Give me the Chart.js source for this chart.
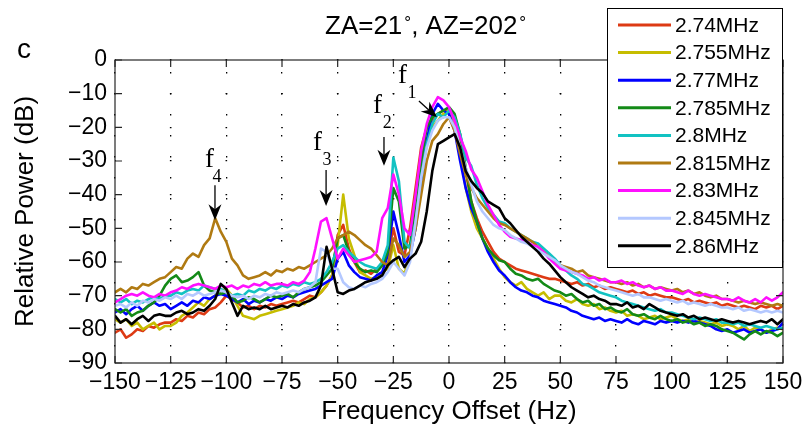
<!DOCTYPE html>
<html>
<head>
<meta charset="utf-8">
<script src="https://cdn.jsdelivr.net/npm/chart.js@4.4.1/dist/chart.umd.min.js"></script>
<style>
html,body{margin:0;padding:0;background:#fff;}
canvas{display:block;}
</style>
</head>
<body>
<canvas id="c" width="810" height="435"></canvas>
<script>
// ---------------- DATA ----------------
const freqOffsetHz = [
-150,-147.5,-145,-142.5,-140,-137.5,-135,-132.5,-130,-127.5,
-125,-122.5,-120,-117.5,-115,-112.5,-110,-107.5,-105,-102.5,
-100,-97.5,-95,-92.5,-90,-87.5,-85,-82.5,-80,-77.5,
-75,-72.5,-70,-67.5,-65,-62.5,-60,-57.5,-55,-52.5,
-50,-47.5,-45,-42.5,-40,-37.5,-35,-32.5,-30,-27.5,
-25,-22.5,-20,-17.5,-15,-12.5,-10,-7.5,-5,-2.5,
0,2.5,5,7.5,10,12.5,15,17.5,20,22.5,
25,27.5,30,32.5,35,37.5,40,42.5,45,47.5,
50,52.5,55,57.5,60,62.5,65,67.5,70,72.5,
75,77.5,80,82.5,85,87.5,90,92.5,95,97.5,
100,102.5,105,107.5,110,112.5,115,117.5,120,122.5,
125,127.5,130,132.5,135,137.5,140,142.5,145,147.5,
150];

const seriesLabels = ['2.74MHz','2.755MHz','2.77MHz','2.785MHz','2.8MHz','2.815MHz','2.83MHz','2.845MHz','2.86MHz'];
const seriesColors = ['#dd3a14','#c6bd00','#0000ff','#138a17','#12c2c2','#b07a12','#ff10ff','#b4c8ff','#000000'];

const p274 = [
-81,-80,-82.5,-81.5,-80,-80.5,-79,-79.5,-78.5,-78,
-78,-77,-77.5,-76,-76.5,-75,-75.5,-74,-73.5,-72,
-70,-71,-72,-73.5,-73,-74,-73,-73.5,-72.5,-73,
-72.5,-72,-71.5,-72,-71,-70,-70.5,-69,-67,-64,
-52,-49,-56,-60,-63,-62.5,-63.5,-62,-61,-58,
-50,-57,-58,-50,-38,-26,-20,-18,-16,-15,
-15,-18,-24,-33,-42,-47,-51,-54,-57,-59,
-60,-61,-62,-62.5,-63,-63.5,-64,-64.5,-65,-65,
-65.5,-66,-66.5,-66,-67,-66.5,-67.5,-67,-68,-67.5,
-68,-68.5,-69,-68.5,-69.5,-69,-70,-69.5,-70,-70.5,
-70.5,-71,-71.5,-71,-72,-71.5,-72,-72.5,-72,-73,
-72.5,-73,-73.5,-73,-73.5,-74,-73,-73.5,-73,-74,
-73];

const p2755 = [
-77,-78,-77,-79,-78,-80,-79,-78,-80,-79,
-79,-78,-76,-75,-73.5,-72,-73,-71,-70,-68.5,
-68,-70,-73,-76,-76.5,-77,-76,-75.5,-75,-74.5,
-74,-73.5,-73,-72,-72.5,-71,-70.5,-69,-67,-64,
-55,-40,-53,-58,-63,-64,-65,-64.5,-63,-62,
-55,-62,-63.5,-58,-45,-32,-24,-20,-18,-16,
-15,-18,-27,-38,-45,-50,-53,-56,-59,-62,
-64.5,-66,-67,-66,-68,-69,-70,-69,-71,-70,
-70,-71.5,-72,-71,-72.5,-73,-72.5,-74,-73.5,-74.5,
-75,-74.5,-76,-75.5,-76,-77,-76.5,-76,-77,-76.5,
-76,-77,-77.5,-77,-78,-77.5,-78,-78.5,-78,-79,
-78.5,-79,-80,-79,-80.5,-79.5,-80,-81,-80,-79.5,
-80];

const p277 = [
-75,-74,-75.5,-74,-73,-74.5,-73,-72,-73,-72.5,
-74,-73,-72,-73,-71.5,-72,-70.5,-71,-70,-69.5,
-70,-71,-72,-71,-72.5,-71.5,-72,-71,-71.5,-70.5,
-71,-70,-70.5,-69.5,-69,-68.5,-68,-67,-66,-65,
-59,-57,-61,-63,-64.5,-65,-65.5,-64,-63,-58,
-45,-52,-60,-58,-50,-36,-24,-16,-13,-15,
-16,-21,-30,-38,-44,-48,-53,-57,-60,-62.5,
-64,-66,-67.5,-68.5,-69,-70,-70.5,-71.5,-72,-72.5,
-73,-73.5,-74.5,-75,-76,-76.5,-77,-76.5,-77.5,-77,
-77.5,-78,-77,-78,-78.5,-77.5,-78,-78.5,-77.5,-78,
-77.5,-78,-77.5,-78,-77.5,-78,-78.5,-79,-80,-80.5,
-80,-81,-80.5,-80,-81,-80.5,-80,-81,-80.5,-80,
-78];

const p2785 = [
-74,-75,-74,-76,-75,-74.5,-73,-72,-70,-67,
-65,-64,-66,-65.5,-64.5,-63,-67,-68.5,-69,-69.5,
-69,-70,-72,-71.5,-70.5,-71,-72,-71,-70,-70.5,
-70,-69.5,-70.5,-69,-68,-67.5,-67,-66,-64,-62,
-53,-52,-57,-60,-62,-63,-62.5,-63,-61,-57,
-38,-42,-56,-55,-44,-30,-20,-17,-16,-15,
-14,-16,-22,-32,-42,-48,-53,-56,-58,-59.5,
-60,-62,-63.5,-64,-65,-65.5,-65,-66.5,-67.5,-68.5,
-69,-70,-69.5,-71,-72,-71.5,-73,-72.5,-74,-73.5,
-74.5,-75,-74,-75.5,-76,-75.5,-76.5,-77,-76,-77,
-77.5,-77,-78,-77.5,-78.5,-78,-79,-78.5,-79,-80,
-80.5,-81,-82,-83,-81.5,-80.5,-81.5,-80.5,-81,-82,
-81];

const p28 = [
-71,-72,-71,-72.5,-71.5,-72,-71,-70.5,-71,-70,
-70,-69,-69.5,-68.5,-68,-68.5,-67,-67.5,-68,-68,
-69,-70,-69.5,-70,-68.5,-69,-68,-68.5,-67.5,-68,
-67,-67.5,-66.5,-67,-66,-66.5,-66,-65,-63,-60,
-56,-55,-57,-58.5,-60,-61,-61.5,-62,-60,-55,
-29,-36,-54,-56,-48,-35,-25,-19,-16,-17,
-15,-17,-22,-29,-31.5,-37,-41,-44,-46,-48,
-48.5,-50,-51,-52,-53,-54,-54.5,-56,-57.5,-59,
-61,-62.5,-64,-65,-66.5,-67,-68,-69,-69.5,-70,
-70.5,-71.5,-72,-72.5,-73,-73.5,-74,-74.5,-74,-75,
-75,-75.5,-76,-76.5,-77,-76.5,-77,-77.5,-77,-78,
-78,-78.5,-78,-79,-78.5,-79,-79.5,-79,-79.5,-80,
-79.5];

const p2815 = [
-69,-68,-69,-67.5,-68,-66.5,-67,-66,-65,-64.5,
-63,-61.5,-62,-59,-57.5,-58.5,-55,-53,-47,-51,
-54,-59,-61,-64,-65,-64.5,-64,-63,-64,-62.5,
-63,-62,-62.5,-61.5,-62,-61,-60,-59,-58,-56,
-53,-52,-51,-52,-53.5,-55,-56,-58,-60,-61,
-53,-55,-58.5,-57,-50,-40,-30,-24,-22,-19,
-17,-21,-28,-34,-38,-41,-43,-45,-47,-48.5,
-49,-50,-51,-52,-53,-54,-55.5,-57,-58.5,-60,
-61,-61.5,-62,-63,-62.5,-64,-64.5,-65,-65.5,-66,
-66,-66.5,-66,-67,-66.5,-67.5,-67,-68,-67.5,-68,
-68.5,-68,-69,-68.5,-69.5,-69,-70,-70.5,-70,-71,
-71,-71.5,-72,-71.5,-72,-72.5,-72,-72.5,-73,-72.5,
-73];

const p283 = [
-72,-71,-70,-69.5,-70,-69,-70,-70.5,-69.5,-70,
-69,-68.5,-67.5,-68,-67,-66.5,-67,-67.5,-68,-67,
-67.5,-67,-68,-67,-67.5,-66.5,-67,-66,-67,-66.5,
-66.5,-67,-66,-66.5,-65.5,-63,-56,-48,-47,-53,
-59,-56,-58,-60,-59.5,-59,-58.5,-57,-47,-44,
-34,-40,-50,-52,-40,-27,-19,-14,-11,-12,
-14,-18,-23,-27,-32.5,-35,-39,-43,-46,-49,
-51,-52.5,-53,-53.5,-54,-55,-55.5,-57,-59,-60.5,
-62,-62.5,-63,-63.5,-64,-65,-64.5,-65.5,-65,-66,
-66,-65.5,-66.5,-66,-67,-67.5,-67,-68,-67.5,-68.5,
-68.5,-69,-69.5,-68.5,-69.5,-70,-69.5,-70,-70.5,-71,
-71,-71.5,-70.5,-71.5,-72,-71,-72,-70.5,-71.5,-70.5,
-69];

const p2845 = [
-73,-72.5,-73.5,-72,-73,-71.5,-72,-71,-71.5,-70.5,
-71,-70,-71,-69.5,-70,-69,-70,-69.5,-69,-68.5,
-69,-70,-70.5,-70,-71,-70,-70.5,-69.5,-70,-69,
-69.5,-69,-68.5,-69,-68,-67.5,-66,-56,-57,-62,
-62,-66,-67.5,-68,-67,-67.5,-66.5,-66,-65,-63,
-60,-62,-64,-60,-48,-35,-26,-21,-18,-17,
-17,-20,-26,-32,-37,-42,-45,-47,-49,-50,
-50.5,-52,-53,-54,-54.5,-55.5,-56.5,-57.5,-58.5,-59.5,
-61,-62,-63,-63.5,-64.5,-65.5,-66,-67,-67.5,-68,
-68.5,-69,-69.5,-70,-69.5,-70.5,-70.5,-71,-71.5,-71,
-71.5,-72,-71.5,-72.5,-72,-72.5,-73,-72.5,-73,-73.5,
-73.5,-74,-73.5,-74.5,-74,-74.5,-75,-74.5,-75,-74.5,
-75];

const p286 = [
-76,-78,-77,-78.5,-77,-76,-77.5,-76,-75.5,-76,
-76,-75,-74.5,-75.5,-75,-74,-74.5,-73,-71,-66.5,
-68,-72,-76,-73,-74,-73.5,-74,-73,-74,-73.5,
-73,-73.5,-72.5,-73,-72,-71.5,-70.5,-67,-55.5,-62,
-69,-69.5,-68.5,-68,-67,-66,-65.5,-65,-64,-61,
-59.5,-58.5,-61.5,-59,-57.5,-54,-45,-33,-25,-24,
-23,-22,-26,-33,-36,-38,-39.5,-42,-43,-44,
-47,-48.5,-50.5,-52.5,-54,-55.5,-57,-59,-60.5,-62.5,
-64.5,-66,-67.5,-68.5,-69.5,-70.5,-70,-71,-71.5,-72.5,
-72.5,-73,-72,-73.5,-73,-74,-72.5,-73.5,-74.5,-75,
-75.5,-76,-75.5,-76.5,-76,-77,-76.5,-77,-77.5,-77,
-77.5,-78,-77.5,-78,-78.5,-78,-77.5,-78,-77,-78.5,
-77];

const seriesValues = [p274, p2755, p277, p2785, p28, p2815, p283, p2845, p286];

const xTickStep = 25, yTickStep = 10;

// annotation anchors (data coordinates)
const annotations = [
  {sub:'4', text:[-109.6,-31.8], subPos:[-106.2,-36.2], from:[-105.1,-37.2], to:[-105.1,-47.6]},
  {sub:'3', text:[-61.1,-26.7],  subPos:[-56.8,-31.2],  from:[-55.2,-32.7],  to:[-55.2,-43.4]},
  {sub:'2', text:[-34.1,-15.7],  subPos:[-29.8,-20.2],  from:[-29.2,-22.9],  to:[-29.2,-31.4]},
  {sub:'1', text:[-22.9,-6.8],   subPos:[-18.6,-11.3],  from:[-13.5,-12.2],  to:[-5.4,-17.0]}
];

// ---------------- CHART ----------------
Chart.defaults.font.family = '"Liberation Sans", Arial, Helvetica, sans-serif';
Chart.defaults.color = '#000';

const minus = v => (v < 0 ? '\u2212' + Math.abs(v) : String(v));

const datasets = seriesValues.map((vals, i) => ({
  label: seriesLabels[i],
  data: freqOffsetHz.map((f, k) => ({x: f, y: vals[k]})),
  borderColor: seriesColors[i],
  backgroundColor: seriesColors[i],
  borderWidth: 2.6,
  pointRadius: 0,
  tension: 0,
  fill: false,
  borderJoinStyle: 'round',
  borderCapStyle: 'round',
  order: seriesValues.length - 1 - i
}));

function drawArrow(ctx, x1, y1, x2, y2) {
  const ang = Math.atan2(y2 - y1, x2 - x1);
  const L = 16, W = 6.5, back = 5;
  ctx.beginPath();
  ctx.moveTo(x1, y1);
  ctx.lineTo(x2 - Math.cos(ang) * (L - back), y2 - Math.sin(ang) * (L - back));
  ctx.lineWidth = 1.3;
  ctx.stroke();
  const bx = x2 - Math.cos(ang) * L, by = y2 - Math.sin(ang) * L;
  const nx = -Math.sin(ang), ny = Math.cos(ang);
  ctx.beginPath();
  ctx.moveTo(x2, y2);
  ctx.lineTo(bx + nx * W, by + ny * W);
  ctx.lineTo(x2 - Math.cos(ang) * (L - back), y2 - Math.sin(ang) * (L - back));
  ctx.lineTo(bx - nx * W, by - ny * W);
  ctx.closePath();
  ctx.fill();
}

const decorPlugin = {
  id: 'decor',
  afterDraw(chart) {
    const ctx = chart.ctx;
    const a = chart.chartArea;
    const xs = chart.scales.x, ys = chart.scales.y;
    ctx.save();
    // axes box
    ctx.strokeStyle = '#262626';
    ctx.lineWidth = 1.2;
    ctx.setLineDash([]);
    ctx.strokeRect(a.left, a.top, a.right - a.left, a.bottom - a.top);
    // inward tick marks
    ctx.beginPath();
    xs.ticks.forEach(t => {
      const px = xs.getPixelForValue(t.value);
      ctx.moveTo(px, a.bottom); ctx.lineTo(px, a.bottom - 7);
      ctx.moveTo(px, a.top); ctx.lineTo(px, a.top + 7);
    });
    ys.ticks.forEach(t => {
      const py = ys.getPixelForValue(t.value);
      ctx.moveTo(a.left, py); ctx.lineTo(a.left + 7, py);
      ctx.moveTo(a.right, py); ctx.lineTo(a.right - 7, py);
    });
    ctx.stroke();

    // f annotations
    ctx.fillStyle = '#000';
    ctx.strokeStyle = '#000';
    ctx.textBaseline = 'alphabetic';
    ctx.textAlign = 'left';
    annotations.forEach(an => {
      ctx.font = '27px "Liberation Serif", "Times New Roman", serif';
      ctx.fillText('f', xs.getPixelForValue(an.text[0]), ys.getPixelForValue(an.text[1]));
      ctx.font = '18px "Liberation Serif", "Times New Roman", serif';
      ctx.fillText(an.sub, xs.getPixelForValue(an.subPos[0]), ys.getPixelForValue(an.subPos[1]));
      drawArrow(ctx,
        xs.getPixelForValue(an.from[0]), ys.getPixelForValue(an.from[1]),
        xs.getPixelForValue(an.to[0]), ys.getPixelForValue(an.to[1]));
    });

    // legend (overlapping axes, drawn on top)
    const lx = 607, ly = 8, lw = 175, lh = 259;
    ctx.fillStyle = '#fff';
    ctx.fillRect(lx, ly, lw, lh);
    ctx.strokeStyle = '#000';
    ctx.lineWidth = 1;
    ctx.strokeRect(lx + 0.5, ly + 0.5, lw, lh);
    ctx.font = '21px "Liberation Sans", Arial, sans-serif';
    ctx.textBaseline = 'middle';
    chart.data.datasets.forEach((ds, i) => {
      const y = 25 + i * 27.6;
      ctx.strokeStyle = ds.borderColor;
      ctx.lineWidth = 3;
      ctx.beginPath();
      ctx.moveTo(618, y); ctx.lineTo(671, y);
      ctx.stroke();
      ctx.fillStyle = '#000';
      ctx.fillText(ds.label, 675, y + 1);
    });

    // title
    ctx.textBaseline = 'alphabetic';
    ctx.fillStyle = '#000';
    let x = 325;
    const big = '26px "Liberation Sans", Arial, sans-serif';
    const small = '17px "Liberation Sans", Arial, sans-serif';
    ctx.font = big; ctx.fillText('ZA=21', x, 34); x += ctx.measureText('ZA=21').width + 2;
    ctx.font = small; ctx.fillText('\u00B0', x, 28); x += ctx.measureText('\u00B0').width;
    ctx.font = big; ctx.fillText(', AZ=202', x, 34); x += ctx.measureText(', AZ=202').width + 2;
    ctx.font = small; ctx.fillText('\u00B0', x, 28);

    // panel letter
    ctx.font = '28px "Liberation Sans", Arial, sans-serif';
    ctx.fillText('c', 17, 58);
    ctx.restore();
  }
};

new Chart(document.getElementById('c'), {
  type: 'line',
  data: {datasets},
  options: {
    responsive: false,
    animation: false,
    devicePixelRatio: 1,
    layout: {padding: {left: 0, right: 27, top: 60, bottom: 0}},
    plugins: {legend: {display: false}, tooltip: {enabled: false}, title: {display: false}},
    scales: {
      x: {
        type: 'linear', min: -150, max: 150,
        ticks: {stepSize: xTickStep, autoSkip: false, maxRotation: 0, minRotation: 0,
                font: {size: 23}, color: '#000', padding: 6, callback: v => minus(v)},
        grid: {color: '#000', lineWidth: 1.3, drawTicks: false},
        border: {display: false, dash: [1.6, 19.4], dashOffset: 9},
        title: {display: true, text: 'Frequency Offset (Hz)', font: {size: 26}, color: '#000', padding: {top: 0, bottom: 8}},
        afterFit(s) { s.height = 72; }
      },
      y: {
        min: -90, max: 0,
        ticks: {stepSize: yTickStep, font: {size: 23}, color: '#000', padding: 8, callback: v => minus(v)},
        grid: {color: '#000', lineWidth: 1.3, drawTicks: false},
        border: {display: false, dash: [1.6, 54.07], dashOffset: 0.8},
        title: {display: true, text: 'Relative Power (dB)', font: {size: 26}, color: '#000', padding: {top: 10, bottom: 0}},
        afterFit(s) { s.width = 115; }
      }
    }
  },
  plugins: [decorPlugin]
});
</script>
</body>
</html>
